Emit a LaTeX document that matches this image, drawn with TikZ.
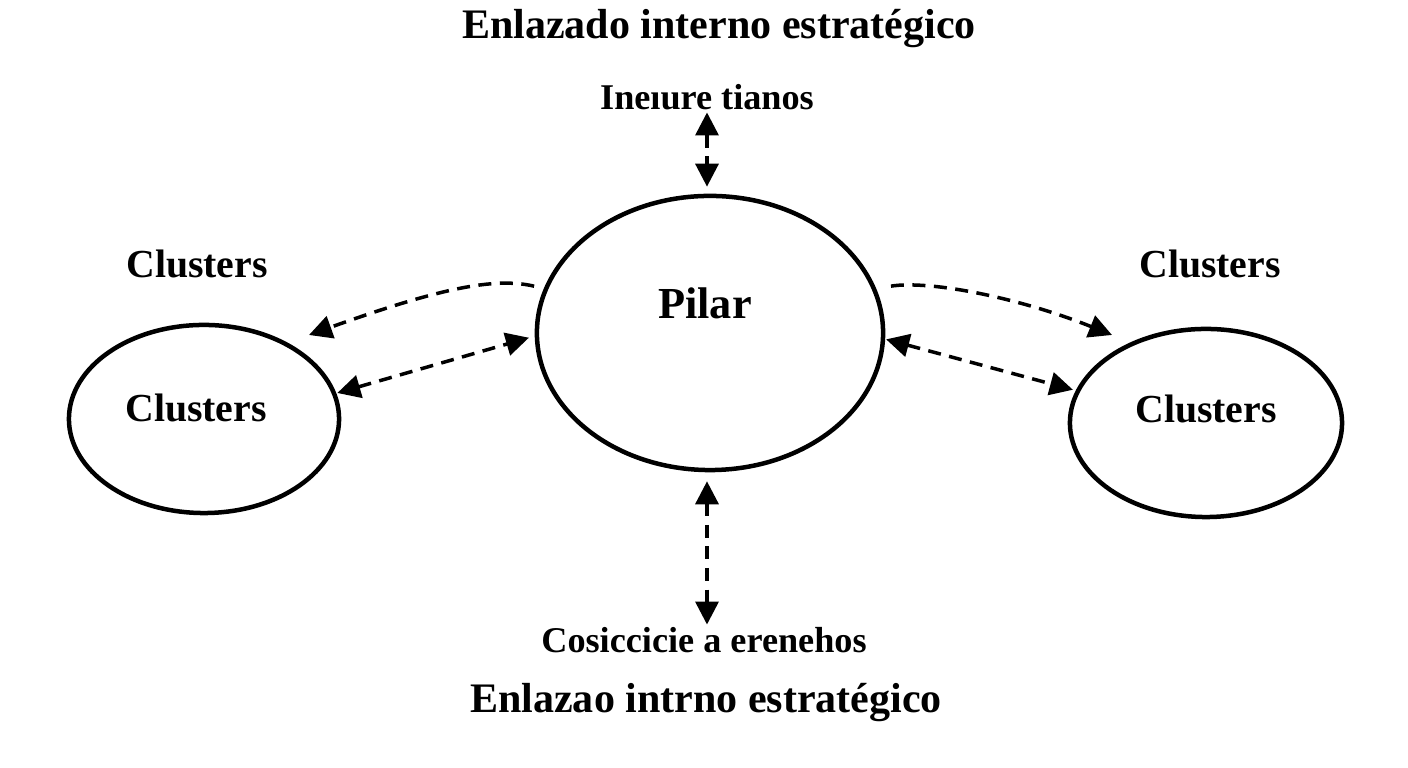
\documentclass[tikz,border=0pt]{standalone}
\usepackage{fontspec}
\setmainfont{Liberation Serif}
\usetikzlibrary{arrows.meta,shapes.geometric}
\tikzset{
    burbuja/.style={draw, ellipse, line width=0.45mm, inner sep=0pt},
    titulo/.style={font=\fontsize{11.95pt}{14pt}\selectfont\bfseries},
    etiqueta/.style={inner sep=0pt, font=\fontsize{10.3pt}{12pt}\selectfont\bfseries},
    grande/.style={font=\fontsize{11.3pt}{13pt}\selectfont\bfseries},
    flecha/.style={line width=0.35mm, dash pattern=on 1.3mm off 0.85mm, -{Triangle[length=2.3mm,width=2.3mm]}},
    dobleflecha/.style={flecha, {Triangle[length=2.3mm,width=2.3mm]}-{Triangle[length=2.3mm,width=2.3mm]}}
}
\begin{document}
\begin{tikzpicture}[x=0.01cm, y=-0.01cm]
        \useasboundingbox (0,0) rectangle (1408,768);
        % Titulos
        \node[titulo] (tituloarriba) at (719, 29) {Enlazado interno estratégico};
        \node[titulo] (tituloabajo) at (706, 703) {Enlazao intrno estratégico};
        \node[etiqueta] (arriba) at (707, 97) {Ineıure tianos};
        \node[etiqueta] (abajo) at (704, 640) {Cosiccicie a erenehos};

        % Burbujas
        \node[burbuja, minimum width=3.46cm, minimum height=2.74cm] (pilar) at (710, 333) {};
        \node[burbuja, minimum width=2.70cm, minimum height=1.88cm] (izq) at (204, 419) {};
        \node[burbuja, minimum width=2.72cm, minimum height=1.88cm] (der) at (1206, 423) {};
        \node[grande, font=\fontsize{12.6pt}{14pt}\selectfont\bfseries] (textopilar) at (705, 303) {Pilar};
        \node[grande] (textoizq) at (196, 408) {Clusters};
        \node[grande] (textoder) at (1206, 409) {Clusters};
        \node[grande] (rotuloizq) at (197, 264) {Clusters};
        \node[grande] (rotuloder) at (1210, 264) {Clusters};

        % Extremos libres de las curvas
        \coordinate (finizq) at (309, 335);
        \coordinate (finder) at (1112, 335);

        % Flechas verticales
        \draw[dobleflecha, shorten <=0.2mm, shorten >=0.7mm] (arriba.south) -- (arriba.south |- pilar.north);
        \draw[dobleflecha, shorten <=0.9mm, shorten >=0.2mm] (arriba.south |- pilar.south) -- (arriba.south |- abajo.north);

        % Flechas a los lados
        \draw[dobleflecha, shorten <=0.1mm, shorten >=0.6mm] (izq.11) -- (pilar.181);
        \draw[dobleflecha, shorten <=0.1mm, shorten >=0.3mm] (pilar.-2) -- (der.166);
        \draw[flecha, shorten <=1mm] (pilar.165) .. controls (495, 277) and (440, 288) .. (finizq);
        \draw[flecha, shorten <=1.5mm] (pilar.15) .. controls (930, 280) and (1020, 298) .. (finder);
    \end{tikzpicture}
\end{document}
